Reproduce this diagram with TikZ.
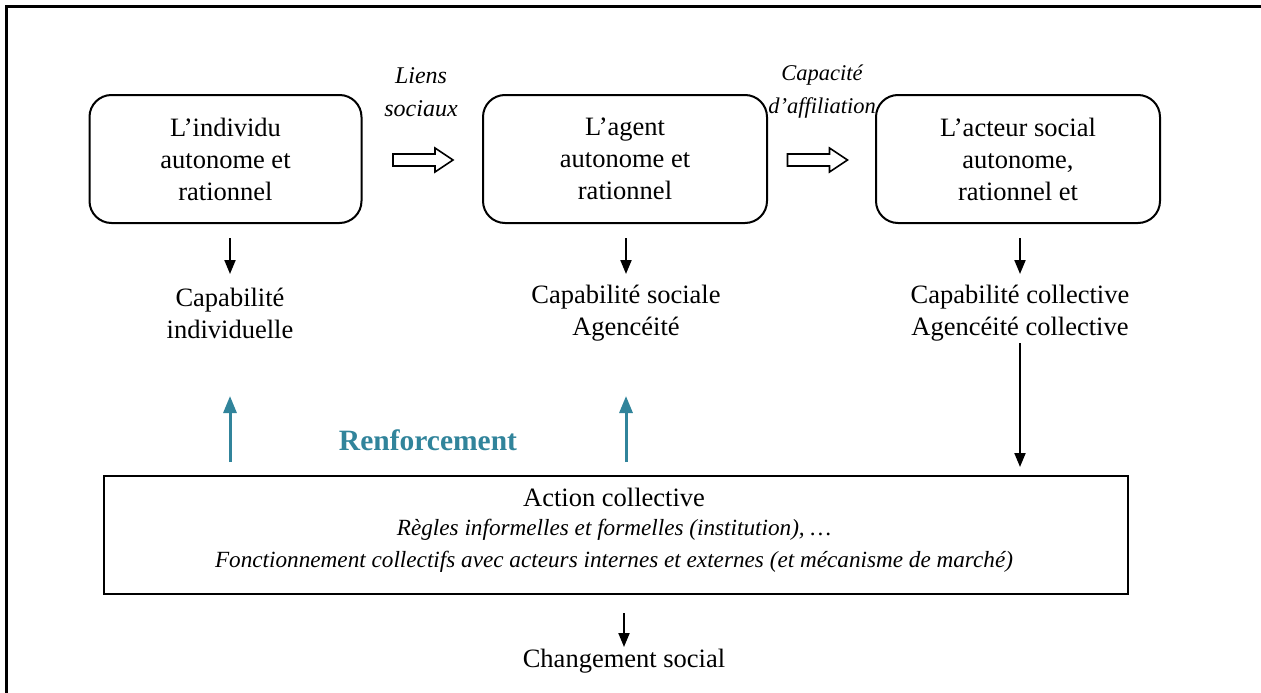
\documentclass[tikz,border=0pt]{standalone}
\usepackage{fontspec}
\setmainfont{Liberation Serif}
\usetikzlibrary{arrows.meta}
\definecolor{teal1}{HTML}{31849B}
\tikzset{
  every node/.style={font=\fontsize{26.5}{32}\selectfont, align=center, inner sep=0pt},
  rbox/.style={draw, line width=2pt, rounded corners=22pt, minimum width=272pt, minimum height=128pt},
  hollow/.style={draw, line width=1.6pt, fill=white, line join=miter},
  blk/.style={-{Triangle[length=14pt,width=11pt]}, line width=2pt},
  tl/.style={-{Triangle[length=17pt,width=13pt]}, line width=3pt, draw=teal1},
  lab/.style={font=\fontsize{24}{33}\selectfont\itshape},
  itl/.style={font=\fontsize{23.2}{32}\selectfont\itshape}
}
\newcommand{\hollowarrow}[1]{%
  \draw[hollow] (#1) ++(0,-6) -- ++(42,0) -- ++(0,-6) -- ++(18,12) -- ++(-18,12) -- ++(0,-6) -- ++(-42,0) -- cycle;}
\begin{document}
\begin{tikzpicture}[x=1pt,y=-1pt]
\useasboundingbox (0,0) rectangle (1261,693);
\draw[line width=3pt] (6,693) coordinate (fl) -- (6,7) coordinate (ftl) -- (1261,7) coordinate (fr);

\node[rbox] (b1) at (225.5,159) {L’individu\\autonome et\\rationnel};
\node[rbox, minimum width=284pt] (b2) at (625,159) {L’agent\\autonome et\\rationnel};
\node[rbox, minimum width=284pt] (b3) at (1018,159) {L’acteur social\\autonome,\\rationnel et};

\coordinate (h1) at (393,160);
\coordinate (h2) at (787.5,160);
\hollowarrow{h1}
\hollowarrow{h2}
\node[lab] (l1) at (421,92) {Liens\\sociaux};
\node[lab, font=\fontsize{22.5}{33}\selectfont\itshape] (l2) at (822,92) {Capacité\\d’affiliation};

\node (c1) at (230,313) {Capabilité\\individuelle};
\node (c2) at (626,313) {Capabilité sociale\\Agencéité};
\node (c3) at (1020,313) {Capabilité collective\\Agencéité collective};

\coordinate (a1s) at (230,238); \coordinate (a1e) at (230,274);
\coordinate (a2s) at (626,238); \coordinate (a2e) at (626,274);
\coordinate (a3s) at (1020,238); \coordinate (a3e) at (1020,274);
\draw[blk] (a1s) -- (a1e);
\draw[blk] (a2s) -- (a2e);
\draw[blk] (a3s) -- (a3e);

\node[draw, line width=2pt, minimum width=1024pt, minimum height=118pt] (act) at (616,535) {};
\node (t1) at (614,497) {Action collective};
\node[itl] (t2) at (614,530) {Règles informelles et formelles (institution), …};
\node[itl] (t3) at (614,562) {Fonctionnement collectifs avec acteurs internes et externes (et mécanisme de marché)};

\coordinate (c3b) at (1020,343);
\coordinate (c3e) at (1020,467);
\draw[blk] (c3b) -- (c3e);

\coordinate (r1s) at (230,462); \coordinate (r1e) at (230,396);
\coordinate (r2s) at (626,462); \coordinate (r2e) at (626,396);
\draw[tl] (r1s) -- (r1e);
\draw[tl] (r2s) -- (r2e);
\node[font=\fontsize{29.5}{30}\selectfont\bfseries, text=teal1] (ren) at (428,440) {Renforcement};

\draw[blk] (624,613) coordinate (cs) -- (624,647) coordinate (ce);
\node (chg) at (624,661) {Changement social};
\end{tikzpicture}
\end{document}
